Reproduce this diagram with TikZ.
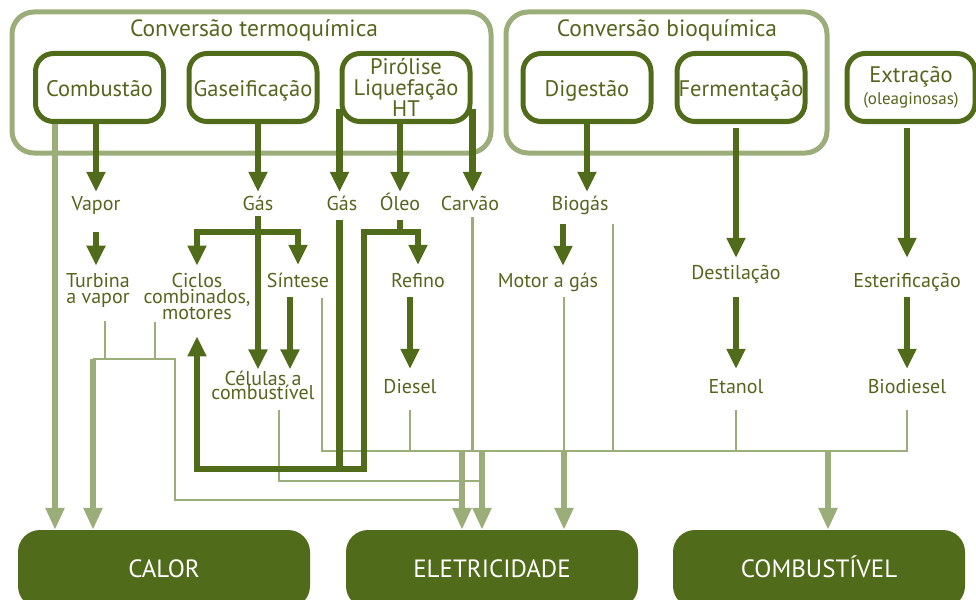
\documentclass[tikz,border=0pt]{standalone}
\usepackage{fontspec}
\setmainfont{PT Sans}
\usetikzlibrary{arrows.meta}

\definecolor{verdeescuro}{RGB}{80,107,26}
\definecolor{verdeclaro}{RGB}{155,174,122}
\definecolor{verdetexto}{RGB}{86,101,30}

\tikzset{
	grupo/.style={draw=verdeclaro, line width=5pt, rounded corners=22pt},
	processo/.style={draw=verdeescuro, line width=5pt, rounded corners=18pt, minimum width=128pt, minimum height=68pt, inner sep=0pt, align=center, text=verdetexto, font=\fontsize{22.5}{21}\selectfont},
	umalinha/.style={text height=17pt, text depth=0pt},
	produto/.style={fill=verdeescuro, rounded corners=22pt, minimum width=292pt, minimum height=78pt, text height=17pt, text depth=0pt, text=white, font=\fontsize{25}{25}\selectfont},
	titulo/.style={anchor=base, text=verdetexto, font=\fontsize{23.5}{23.5}\selectfont},
	rotulo/.style={anchor=base, inner sep=1pt, text height=15pt, text depth=5pt, text=verdetexto, font=\fontsize{20}{16}\selectfont},
	rotulos/.style={anchor=base, inner sep=1pt, align=center, text=verdetexto, font=\fontsize{20}{16}\selectfont},
	fluxo/.style={draw=verdeescuro, line width=6.5pt, -{Triangle[width=18pt,length=20pt]}, shorten >=4pt, shorten <=4pt},
	escuro/.style={draw=verdeescuro, line width=6.5pt},
	fino/.style={draw=verdeclaro, line width=2.5pt},
	grosso/.style={draw=verdeclaro, line width=6pt, -{Triangle[width=18pt,length=22pt]}}
}

\begin{document}
\begin{tikzpicture}[x=1pt, y=-1pt]
	\useasboundingbox (0,0) rectangle (976,599);
	\clip (0,0) rectangle (976,599);

	% grupos de conversao
	\draw[grupo] (12,12) rectangle (491,153);
	\draw[grupo] (506,12) rectangle (827,153);
	\node[titulo] (termo) at (254,37) {Conversão termoquímica};
	\node[titulo] (bioq) at (667,37) {Conversão bioquímica};

	% processos
	\node[processo, umalinha] (comb) at (99.5,87.5) {Combustão};
	\node[processo, umalinha] (gas) at (253,87.5) {Gaseificação};
	\node[processo] (piro) at (406,87.5) {Pirólise\\Liquefação\\HT};
	\node[processo, umalinha] (dig) at (587,87.5) {Digestão};
	\node[processo, umalinha] (ferm) at (741,87.5) {Fermentação};
	\node[processo] (extr) at (911,87.5) {Extração\\[1pt]{\fontsize{17}{17}\selectfont (oleaginosas)}};

	% produtos finais
	\node[produto] (calor) at (164,569) {CALOR};
	\node[produto] (eletr) at (492,569) {ELETRICIDADE};
	\node[produto] (combust) at (819,569) {COMBUSTÍVEL};

	% produtos intermediarios
	\node[rotulo] (vapor) at (96,210) {Vapor};
	\node[rotulo] (gasA) at (258,210) {Gás};
	\node[rotulo] (gasB) at (342,210) {Gás};
	\node[rotulo] (oleo) at (400,210) {Óleo};
	\node[rotulo] (carvao) at (470,210) {Carvão};
	\node[rotulo] (biogas) at (580,210) {Biogás};

	\node[rotulos] (turb) at (98,303) {Turbina\\a vapor};
	\node[rotulos] (ciclos) at (197,319) {Ciclos\\combinados,\\motores};
	\node[rotulo] (sint) at (298,287) {Síntese};
	\node[rotulo] (refino) at (418,287) {Refino};
	\node[rotulo] (motor) at (548,287) {Motor a gás};
	\node[rotulo] (destil) at (736,279) {Destilação};
	\node[rotulo] (ester) at (907,287) {Esterificação};

	\node[rotulos] (celulas) at (263,399) {Células a\\[-2pt]combustível};
	\node[rotulo] (diesel) at (410,393) {Diesel};
	\node[rotulo] (etanol) at (736,393) {Etanol};
	\node[rotulo] (biodiesel) at (907,393) {Biodiesel};

	% pontos de juncao
	\coordinate (barra) at (0,232);
	\coordinate (retorno) at (0,469);
	\coordinate (cc) at (55,0);
	\coordinate (cA) at (93,359);
	\coordinate (cB) at (175,359);
	\coordinate (t1) at (105,359);
	\coordinate (t2) at (155,359);
	\coordinate (tc) at (462,500);
	\coordinate (cl0) at (279,481);
	\coordinate (cl) at (482,481);
	\coordinate (s0) at (322,451);
	\coordinate (s9) at (907,451);
	\coordinate (e1) at (462,451);
	\coordinate (e2) at (482,451);
	\coordinate (e3) at (564,451);
	\coordinate (b1) at (613,451);
	\coordinate (k1) at (828,451);
	\coordinate (jr) at (364,469);
	\coordinate (jg) at (gasA.south |- barra);
	\coordinate (jo) at (oleo.south |- barra);
	\coordinate (ps) at ([xshift=-8pt]sint.south);
	\coordinate (pb) at ([xshift=-17pt]biogas.south);

	% ligacoes claras
	\draw[grosso] (comb.south -| cc) -- (calor.north -| cc);
	\draw[fino, shorten <=13pt] (t1 |- turb.south) -- (t1);
	\draw[fino, shorten <=2pt] (t2 |- ciclos.south) -- (t2);
	\draw[fino] (cA) -- (cB) |- (tc);
	\draw[grosso] (cA) -- (calor.north -| cA);
	\draw[fino, shorten <=10pt] (cl0 |- celulas.south) -- (cl0) -- (cl);
	\draw[fino, shorten <=5pt, shorten >=11pt] (s0 |- sint.south) -- (s0) -- (s9) -- (s9 |- biodiesel.south);
	\draw[fino, shorten <=11pt] (diesel.south) -- (diesel.south |- s0);
	\draw[fino, shorten <=1pt] (carvao.south -| piro.east) -- (piro.east |- s0);
	\draw[fino, shorten <=4pt] (e3 |- motor.south) -- (e3);
	\draw[fino, shorten <=8pt] (b1 |- biogas.south) -- (b1);
	\draw[fino, shorten <=11pt] (etanol.south) -- (etanol.south |- s0);
	\draw[grosso] (e1) -- (eletr.north -| e1);
	\draw[grosso] (e2) -- (eletr.north -| e2);
	\draw[grosso] (e3) -- (eletr.north -| e3);
	\draw[grosso] (k1) -- (combust.north -| k1);

	% ligacoes escuras
	\draw[fluxo, shorten >=2pt, shorten <=0pt] (comb.south -| vapor) -- (vapor);
	\draw[fluxo, shorten >=2pt, shorten <=0pt] (gas.south -| gasA) -- (gasA);
	\draw[fluxo, shorten >=2pt, shorten <=0pt] ([yshift=-22pt]piro.west) -- (gasB.north -| piro.west);
	\draw[fluxo, shorten >=2pt, shorten <=0pt] (piro.south -| oleo) -- (oleo);
	\draw[fluxo, shorten >=2pt, shorten <=0pt] ([yshift=-22pt]piro.east) -- (carvao.north -| piro.east);
	\draw[fluxo, shorten >=2pt, shorten <=0pt] (dig.south) -- (biogas.north -| dig.south);

	\draw[fluxo, shorten <=16pt, shorten >=6pt] (vapor.south) -- (turb.north -| vapor.south);
	\draw[fluxo, shorten <=0pt, shorten >=0pt] (gasA) -- (celulas.north -| gasA);
	\draw[fluxo, shorten <=0pt, shorten >=6pt] (jg) -| (ciclos.north);
	\draw[fluxo, shorten <=0pt, shorten >=6pt] (jg) -| (sint.north);
	\draw[fluxo, shorten >=16pt] (gasB.south -| piro.west) |- (ciclos.south |- retorno) -- (ciclos.south);
	\draw[fluxo, shorten >=6pt] (oleo.south) -- (jo) -| (refino.north);
	\draw[escuro] (jo) -| (jr) -- (piro.west |- retorno);
	\draw[fluxo, shorten >=0pt] (ps) -- (celulas.north -| ps);
	\draw[fluxo, shorten >=8pt] (refino.south -| diesel) -- (diesel);
	\draw[fluxo, shorten <=8pt, shorten >=5pt] (pb) -- (motor.north -| pb);
	\draw[fluxo, shorten >=5pt] (ferm.south -| destil) -- (destil);
	\draw[fluxo, shorten >=13pt] (extr.south -| ester) -- (ester);
	\draw[fluxo, shorten <=12pt, shorten >=8pt] (destil) -- (etanol);
	\draw[fluxo, shorten >=8pt] (ester) -- (biodiesel);
\end{tikzpicture}
\end{document}
